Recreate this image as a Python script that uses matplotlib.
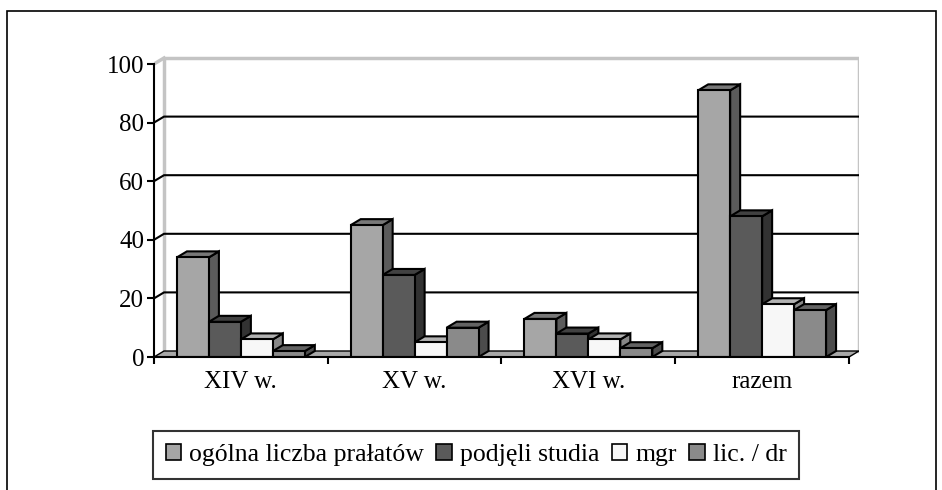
import matplotlib.pyplot as plt
from matplotlib.patches import Polygon, Patch, Rectangle
from matplotlib.colors import to_rgb

plt.rcParams['font.family'] = ['Liberation Serif', 'DejaVu Serif']

categories = ['XIV w.', 'XV w.', 'XVI w.', 'razem']
series_names = ['ogólna liczba prałatów', 'podjęli studia', 'mgr', 'lic. / dr']
ogolna = [34, 45, 13, 91]
podjeli = [12, 28, 8, 48]
mgr = [6, 5, 6, 18]
lic_dr = [2, 10, 3, 16]
series = [ogolna, podjeli, mgr, lic_dr]
colors = ['#a6a6a6', '#5a5a5a', '#f7f7f7', '#8a8a8a']

# pixel geometry of the 3d look
px_x = 173.75          # pixels per category
px_y = 2.93            # pixels per unit
DX = 10 / px_x         # depth offset in data units
DY = 6 / px_y
w = 0.184              # bar width

fig = plt.figure(figsize=(9.42, 4.9), dpi=100)
xmin, xmax = -0.5, 3.5 + DX
ymin, ymax = 0, 103
ax = fig.add_axes([154 / 942, (490 - 357) / 490,
                   (xmax - xmin) * px_x / 942, (ymax - ymin) * px_y / 490])
ax.set_xlim(xmin, xmax)
ax.set_ylim(ymin, ymax)

# outer frame of the chart
fig.patches.append(Rectangle((7 / 942, -0.1), 929 / 942, (490 - 11) / 490 + 0.1,
                             transform=fig.transFigure, fill=False,
                             edgecolor='black', lw=1.2, clip_on=False))

# walls and floor
wall = '#c4c4c4'
ax.plot([-0.5 + DX, -0.5 + DX, 3.5 + DX, 3.5 + DX],
        [DY, 100 + DY, 100 + DY, DY], color=wall, lw=2.5, zorder=1)
ax.plot([-0.5, -0.5 + DX], [100, 100 + DY], color=wall, lw=2.5, zorder=1)
ax.add_patch(Polygon([(-0.5, 0), (3.5, 0), (3.5 + DX, DY), (-0.5 + DX, DY)],
                     closed=True, facecolor='#a8a8a8', edgecolor='black',
                     lw=1.0, zorder=1.5))

# gridlines on the back wall
for v in [20, 40, 60, 80]:
    ax.plot([-0.5, -0.5 + DX, 3.5 + DX], [v, v + DY, v + DY],
            color='black', lw=1.5, zorder=1.2)


def shade(c, f):
    r, g, b = to_rgb(c)
    return (r * f, g * f, b * f)


xs = list(range(len(categories)))
for k, vals in enumerate(series):
    pos = [i + (k - 2) * w for i in xs]
    bars = ax.bar(pos, vals, width=w, align='edge', color=colors[k],
                  edgecolor='black', lw=1.5)
    for i, (p, x0, v) in enumerate(zip(bars, pos, vals)):
        z = 3 + (i * 4 + k) * 0.01
        p.set_zorder(z + 0.005)
        top = Polygon([(x0, v), (x0 + w, v), (x0 + w + DX, v + DY), (x0 + DX, v + DY)],
                      closed=True, facecolor=shade(colors[k], 0.72),
                      edgecolor='black', lw=1.5, zorder=z)
        side = Polygon([(x0 + w, 0), (x0 + w + DX, DY), (x0 + w + DX, v + DY), (x0 + w, v)],
                       closed=True, facecolor=shade(colors[k], 0.55),
                       edgecolor='black', lw=1.5, zorder=z)
        ax.add_patch(side)
        ax.add_patch(top)

# axes
for s in ['top', 'right']:
    ax.spines[s].set_visible(False)
ax.spines['left'].set_bounds(0, 100)
ax.spines['bottom'].set_bounds(-0.5, 3.5)
ax.spines['left'].set_linewidth(1.5)
ax.spines['bottom'].set_linewidth(1.5)
ax.spines['left'].set_zorder(5)
ax.spines['bottom'].set_zorder(5)

ax.set_yticks(range(0, 101, 20))
ax.tick_params(axis='y', direction='out', length=5, width=1.5, labelsize=18, pad=2)
ax.set_xticks([-0.5, 0.5, 1.5, 2.5, 3.5])
ax.set_xticklabels([])
ax.set_xticks(xs, minor=True)
ax.set_xticklabels(categories, minor=True)
ax.tick_params(axis='x', which='major', direction='out', length=5, width=1.5)
ax.tick_params(axis='x', which='minor', length=0, labelsize=18, pad=10)

handles = [Patch(facecolor=c, edgecolor='black', lw=1.2) for c in colors]
leg = fig.legend(handles, series_names, loc='center', ncol=4,
                 bbox_to_anchor=(476 / 942, 1 - 455 / 490), fontsize=18.5,
                 frameon=True, fancybox=False, handlelength=0.6, handleheight=0.6,
                 handletextpad=0.3, columnspacing=0.5, borderpad=0.5)
leg.get_frame().set_edgecolor('black')
leg.get_frame().set_linewidth(1.5)

fig.savefig('out.png', dpi=100)
